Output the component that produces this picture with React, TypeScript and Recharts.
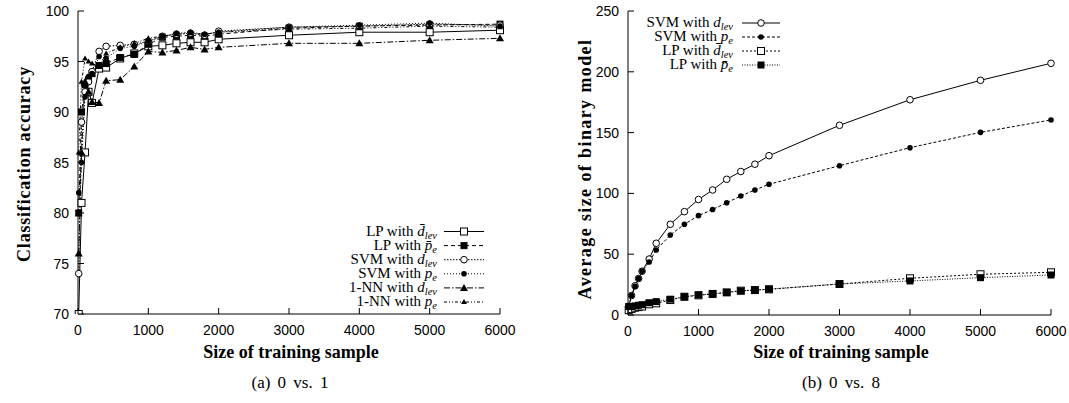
import React from 'react';
import { LineChart, Line, XAxis, YAxis } from 'recharts';

// training sample sizes (shared by both panels)
const sampleSizes = [10, 50, 100, 150, 200, 300, 400, 600, 800, 1000, 1200, 1400, 1600, 1800, 2000, 3000, 4000, 5000, 6000];
const xTicks = [0, 1000, 2000, 3000, 4000, 5000, 6000];

// (a) 0 vs. 1 : classification accuracy
const accLpDlev = [70, 81, 86, 92, 90.9, 94.3, 94.4, 95.3, 95.8, 96.5, 96.6, 96.8, 96.9, 96.9, 97.2, 97.6, 97.9, 97.9, 98.1];
const accLpPe = [80, 90, 92.7, 93.2, 93.8, 94.6, 94.8, 95.4, 95.7, 96.7, 97.4, 97.5, 97.6, 97.5, 97.7, 98.3, 98.5, 98.6, 98.7];
const accSvmDlev = [74, 89, 92, 93, 94, 96.0, 96.5, 96.6, 96.7, 97.0, 97.5, 97.7, 97.8, 97.6, 98.0, 98.4, 98.5, 98.7, 98.6];
const accSvmPe = [82, 85, 91.5, 93.5, 93.8, 95.5, 95.3, 96.3, 96.5, 97.0, 97.5, 97.8, 97.9, 97.7, 97.9, 98.4, 98.6, 98.8, 98.5];
const accNnDlev = [76, 86, 93, 92, 91, 90.9, 93.1, 93.2, 94.5, 96.0, 95.9, 96.1, 96.4, 96.2, 96.4, 96.8, 96.8, 97.1, 97.3];
const accNnPe = [86, 93, 95.3, 95, 94.8, 94.5, 95.8, 96.4, 96.8, 97.3, 97.5, 97.7, 97.8, 97.7, 97.9, 98.2, 98.3, 98.5, 98.4];
const accTicks = [70, 75, 80, 85, 90, 95, 100];

// (b) 0 vs. 8 : average size of binary model
const sizeSvmDlev = [7, 16, 24, 30, 36, 46, 59, 74.6, 85, 95, 102.8, 111.6, 118, 124, 131, 156, 177, 193, 207];
const sizeSvmPe = [7, 16, 23.5, 30, 36, 43.6, 53.5, 65.8, 74.6, 81.7, 86.8, 92.3, 97.9, 102.8, 107.5, 122.8, 137.6, 150.2, 160.4];
const sizeLpDlev = [4, 5, 6, 6.5, 7, 8.8, 9.6, 12.3, 15, 16.2, 17.3, 18.6, 20, 20.5, 21.1, 25.5, 30.2, 33.5, 35.1];
const sizeLpPe = [7, 7, 7.5, 8, 8.5, 10.1, 11, 13, 15, 16.5, 17.5, 18.5, 19.8, 20.5, 21.3, 25.5, 28, 30.7, 32.9];
const sizeTicks = [0, 50, 100, 150, 200, 250];

type Shape = 'openSquare' | 'square' | 'openCircle' | 'circle' | 'triangle' | 'smallTriangle';

interface Series {
  key: string;
  method: string;
  dist: 'dbar' | 'pbar' | 'd' | 'p';
  values: number[];
  shape: Shape;
  dash?: string;
}

const leftSeries: Series[] = [
  { key: 'a0', method: 'LP', dist: 'dbar', values: accLpDlev, shape: 'openSquare' },
  { key: 'a1', method: 'LP', dist: 'pbar', values: accLpPe, shape: 'square', dash: '4 3' },
  { key: 'a2', method: 'SVM', dist: 'd', values: accSvmDlev, shape: 'openCircle', dash: '1.5 1.5' },
  { key: 'a3', method: 'SVM', dist: 'p', values: accSvmPe, shape: 'circle', dash: '1 2' },
  { key: 'a4', method: '1-NN', dist: 'd', values: accNnDlev, shape: 'triangle', dash: '6 2 1.5 2' },
  { key: 'a5', method: '1-NN', dist: 'p', values: accNnPe, shape: 'smallTriangle', dash: '3 2 1 2 1 2' },
];

const rightSeries: Series[] = [
  { key: 'b0', method: 'SVM', dist: 'd', values: sizeSvmDlev, shape: 'openCircle' },
  { key: 'b1', method: 'SVM', dist: 'p', values: sizeSvmPe, shape: 'circle', dash: '3 2' },
  { key: 'b2', method: 'LP', dist: 'dbar', values: sizeLpDlev, shape: 'openSquare', dash: '2 2' },
  { key: 'b3', method: 'LP', dist: 'pbar', values: sizeLpPe, shape: 'square', dash: '1 1.5' },
];

const buildRows = (series: Series[]) =>
  sampleSizes.map((x, i) => {
    const row: Record<string, number> = { x };
    series.forEach((s) => (row[s.key] = s.values[i]));
    return row;
  });

const serif = '"Liberation Serif", "Times New Roman", serif';
const sans = '"Liberation Sans", Arial, sans-serif';

function Marker({ shape, x, y }: { shape: Shape; x: number; y: number }) {
  switch (shape) {
    case 'openSquare':
      return <rect x={x - 3.5} y={y - 3.5} width={7} height={7} fill="#fff" stroke="#000" strokeWidth={1} />;
    case 'square':
      return <rect x={x - 3.5} y={y - 3.5} width={7} height={7} fill="#000" />;
    case 'openCircle':
      return <circle cx={x} cy={y} r={3.3} fill="#fff" stroke="#000" strokeWidth={1} />;
    case 'circle':
      return <circle cx={x} cy={y} r={2.8} fill="#000" />;
    case 'triangle':
      return <polygon points={`${x},${y - 4} ${x - 4},${y + 3} ${x + 4},${y + 3}`} fill="#000" />;
    default:
      return <polygon points={`${x},${y - 3} ${x - 3},${y + 2} ${x + 3},${y + 2}`} fill="#000" />;
  }
}

const makeDot = (shape: Shape) => (p: any) => (
  <g key={`d${p.index}`}>{p.cx != null && p.cy != null ? <Marker shape={shape} x={p.cx} y={p.cy} /> : null}</g>
);

const BottomTick = (p: any) => (
  <g>
    <line x1={p.x} x2={p.x} y1={p.y} y2={p.y - 6} stroke="#000" />
    <text x={p.x} y={p.y + 21} textAnchor="middle" fontFamily={sans} fontSize={14} fill="#000">
      {p.payload.value}
    </text>
  </g>
);
const TopTick = (p: any) => <line x1={p.x} x2={p.x} y1={p.y} y2={p.y + 6} stroke="#000" />;
const LeftTick = (p: any) => (
  <g>
    <line x1={p.x} x2={p.x + 6} y1={p.y} y2={p.y} stroke="#000" />
    <text x={p.x - 9} y={p.y + 5} textAnchor="end" fontFamily={sans} fontSize={14} fill="#000">
      {p.payload.value}
    </text>
  </g>
);
const RightTick = (p: any) => <line x1={p.x - 6} x2={p.x} y1={p.y} y2={p.y} stroke="#000" />;

function Panel({ series, domain, ticks, yWidth, xHeight, width }: {
  series: Series[]; domain: [number, number]; ticks: number[]; yWidth: number; xHeight: number; width: number;
}) {
  return (
    <LineChart width={width} height={360} data={buildRows(series)} margin={{ top: 11, right: 30, left: 0, bottom: 0 }}>
      <XAxis type="number" dataKey="x" domain={[0, 6000]} ticks={xTicks} height={xHeight}
        tickSize={0} tickMargin={0} tickLine={false} axisLine={{ stroke: '#000' }} tick={BottomTick} interval={0} />
      <XAxis xAxisId="top" orientation="top" type="number" dataKey="x" domain={[0, 6000]} ticks={xTicks} height={0}
        tickSize={0} tickMargin={0} tickLine={false} axisLine={{ stroke: '#000' }} tick={TopTick} interval={0} />
      <YAxis type="number" domain={domain} ticks={ticks} width={yWidth} allowDataOverflow
        tickSize={0} tickMargin={0} tickLine={false} axisLine={{ stroke: '#000' }} tick={LeftTick} interval={0} />
      <YAxis yAxisId="right" orientation="right" type="number" domain={domain} ticks={ticks} width={0}
        tickSize={0} tickMargin={0} tickLine={false} axisLine={{ stroke: '#000' }} tick={RightTick} interval={0} />
      {series.map((s) => (
        <Line key={s.key} type="linear" dataKey={s.key} stroke="#000" strokeWidth={1}
          strokeDasharray={s.dash} dot={makeDot(s.shape)} activeDot={false} isAnimationActive={false} />
      ))}
    </LineChart>
  );
}

function LegendLabel({ s, x, y }: { s: Series; x: number; y: number }) {
  const base = s.dist === 'dbar' || s.dist === 'd' ? 'd' : 'p';
  const bar = s.dist === 'dbar' || s.dist === 'pbar' ? '\u0304' : '';
  const sub = base === 'd' ? 'lev' : 'e';
  return (
    <text x={x} y={y + 4} textAnchor="end" fontFamily={serif} fontSize={15} fill="#000">
      {s.method} with{' '}
      <tspan fontStyle="italic">{base + bar}</tspan>
      <tspan fontStyle="italic" fontSize={10.5} dy={3}>{sub}</tspan>
    </text>
  );
}

function LegendBlock({ series, textRight, lineLeft, lineRight, top, step }: {
  series: Series[]; textRight: number; lineLeft: number; lineRight: number; top: number; step: number;
}) {
  return (
    <g>
      {series.map((s, i) => {
        const y = top + i * step;
        return (
          <g key={s.key}>
            <LegendLabel s={s} x={textRight} y={y} />
            <line x1={lineLeft} x2={lineRight} y1={y} y2={y} stroke="#000" strokeDasharray={s.dash} />
            <Marker shape={s.shape} x={(lineLeft + lineRight) / 2} y={y} />
          </g>
        );
      })}
    </g>
  );
}

export default function App() {
  return (
    <div style={{ position: 'absolute', left: 0, top: 0, width: 1069, height: 403, background: '#fff', overflow: 'hidden' }}>
      <div style={{ position: 'absolute', left: 0, top: 0 }}>
        <Panel series={leftSeries} domain={[70, 100]} ticks={accTicks} yWidth={78} xHeight={46} width={530} />
      </div>
      <div style={{ position: 'absolute', left: 540, top: 0 }}>
        <Panel series={rightSeries} domain={[0, 250]} ticks={sizeTicks} yWidth={88} xHeight={45} width={541} />
      </div>
      <svg width={1069} height={403} style={{ position: 'absolute', left: 0, top: 0, pointerEvents: 'none' }}>
        <LegendBlock series={leftSeries} textRight={437} lineLeft={444} lineRight={484} top={231.5} step={14.1} />
        <LegendBlock series={rightSeries} textRight={733} lineLeft={742} lineRight={780} top={23} step={14} />
        <text transform="translate(30,164) rotate(-90)" textAnchor="middle" fontFamily={serif} fontWeight="bold"
          fontSize={18} letterSpacing={0.8} fill="#000">
          Classification accuracy
        </text>
        <text transform="translate(591,169) rotate(-90)" textAnchor="middle" fontFamily={serif} fontWeight="bold"
          fontSize={18} letterSpacing={1.4} fill="#000">
          Average size of binary model
        </text>
        <text x={291} y={358} textAnchor="middle" fontFamily={serif} fontWeight="bold" fontSize={18} fill="#000">
          Size of training sample
        </text>
        <text x={841} y={358} textAnchor="middle" fontFamily={serif} fontWeight="bold" fontSize={18} fill="#000">
          Size of training sample
        </text>
        <text x={290} y={388} textAnchor="middle" fontFamily={serif} fontSize={17} wordSpacing={3} fill="#000">
          (a) 0 vs. 1
        </text>
        <text x={841} y={388} textAnchor="middle" fontFamily={serif} fontSize={17} wordSpacing={3} fill="#000">
          (b) 0 vs. 8
        </text>
      </svg>
    </div>
  );
}
